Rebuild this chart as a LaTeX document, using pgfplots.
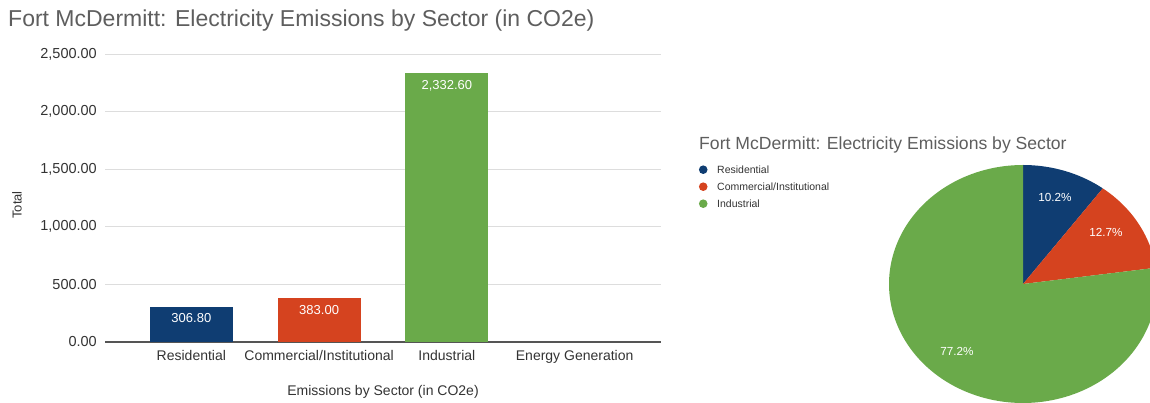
\documentclass[border=0pt]{standalone}
\usepackage{fontspec}
\setmainfont{Liberation Sans}
\usepackage{pgfplots}
\pgfplotsset{compat=1.18}
\definecolor{resblue}{HTML}{0F3D72}
\definecolor{comred}{HTML}{D5431F}
\definecolor{indgreen}{HTML}{6AAA4A}
\definecolor{titlegray}{HTML}{5E5E5E}
\definecolor{ticktext}{HTML}{333333}
\definecolor{gridgray}{HTML}{DDDDDD}
\definecolor{basegray}{HTML}{555555}
\begin{document}
\begin{tikzpicture}
\pgfmathsetmacro{\tot}{306.8+383.0+2332.6}
\pgfmathsetmacro{\aA}{90-360*(306.8/\tot)}
\pgfmathsetmacro{\aB}{\aA-360*(383.0/\tot)}
\path[use as bounding box] (0pt,0pt) rectangle (1150pt,403pt);
\node[anchor=west, text=titlegray, font=\fontsize{23}{26}\selectfont, inner sep=0pt] at (8pt,382pt) {Fort McDermitt: Electricity Emissions by Sector (in CO2e)};
\node[rotate=90, text=ticktext, font=\fontsize{13}{15}\selectfont, inner sep=0pt] at (17pt,198pt) {Total};
\node[text=ticktext, font=\fontsize{14}{16}\selectfont, inner sep=0pt] at (383pt,11pt) {Emissions by Sector (in CO2e)};
\begin{axis}[
  at={(105pt,61pt)}, anchor=south west, scale only axis,
  width=556pt, height=288pt,
  xmin=-0.676, xmax=3.676, ymin=0, ymax=2500,
  ytick={0,500,1000,1500,2000,2500},
  xtick={0,1,2,3},
  xticklabels={Residential,Commercial/Institutional,Industrial,Energy Generation},
  axis line style={draw=none},
  major tick length=0pt,
  ymajorgrids, grid style={draw=gridgray, line width=0.9pt},
  extra y ticks={0}, extra y tick labels={},
  extra y tick style={grid style={draw=basegray, line width=1.3pt}},
  yticklabel style={font=\fontsize{14.5}{17}\selectfont, text=ticktext, inner sep=0pt, xshift=-8pt,
    /pgf/number format/fixed, /pgf/number format/fixed zerofill,
    /pgf/number format/precision=2, /pgf/number format/1000 sep={,},
    /pgf/number format/assume math mode=true},
  xticklabel style={font=\fontsize{14}{16}\selectfont, text=ticktext, inner sep=0pt, yshift=-8pt},
  clip=false,
]
\addplot[ybar, bar width=83pt, fill=resblue, draw=none,
  nodes near coords={\pgfmathprintnumber[fixed,fixed zerofill,precision=2,1000 sep={,},assume math mode=true]{\pgfplotspointmeta}},
  every node near coord/.append style={anchor=north, yshift=-7pt, inner sep=0pt, text=white, font=\fontsize{13}{15}\selectfont}]
  coordinates {(0,306.8)};
\addplot[ybar, bar width=83pt, fill=comred, draw=none,
  nodes near coords={\pgfmathprintnumber[fixed,fixed zerofill,precision=2,1000 sep={,},assume math mode=true]{\pgfplotspointmeta}},
  every node near coord/.append style={anchor=north, yshift=-7pt, inner sep=0pt, text=white, font=\fontsize{13}{15}\selectfont}]
  coordinates {(1,383.0)};
\addplot[ybar, bar width=83pt, fill=indgreen, draw=none,
  nodes near coords={\pgfmathprintnumber[fixed,fixed zerofill,precision=2,1000 sep={,},assume math mode=true]{\pgfplotspointmeta}},
  every node near coord/.append style={anchor=north, yshift=-7pt, inner sep=0pt, text=white, font=\fontsize{13}{15}\selectfont}]
  coordinates {(2,2332.6)};
\end{axis}
\node[anchor=west, text=titlegray, font=\fontsize{17.6}{20}\selectfont, inner sep=0pt] at (699pt,258pt) {Fort McDermitt: Electricity Emissions by Sector};
\begin{axis}[
  at={(889pt,0pt)}, anchor=south west, scale only axis,
  width=268pt, height=238pt,
  xmin=-1, xmax=1, ymin=-1, ymax=1,
  hide axis, clip=false,
  legend style={at={(axis description cs:-0.710,1.0)}, anchor=north west,
    draw=none, fill=none, inner sep=0pt, row sep=7pt,
    font=\fontsize{10.5}{12}\selectfont, text=ticktext,
    nodes={inner sep=0pt, text height=8pt, text depth=2pt},
    /tikz/every odd column/.append style={column sep=9.7pt}},
  legend cell align=left,
]
\addplot[fill=resblue, draw=none, domain=\aA:90, samples=60, variable=\t,
  legend image code/.code={\fill[resblue] (0pt,0.5pt) circle (4.3pt);}]
  ({cos(\t)},{sin(\t)}) -- (0,0) -- cycle;
\addlegendentry{Residential}
\addplot[fill=comred, draw=none, domain=\aB:\aA, samples=60, variable=\t,
  legend image code/.code={\fill[comred] (0pt,0.5pt) circle (4.3pt);}]
  ({cos(\t)},{sin(\t)}) -- (0,0) -- cycle;
\addlegendentry{Commercial/Institutional}
\addplot[fill=indgreen, draw=none, domain=-270:\aB, samples=200, variable=\t,
  legend image code/.code={\fill[indgreen] (0pt,0.5pt) circle (4.3pt);}]
  ({cos(\t)},{sin(\t)}) -- (0,0) -- cycle;
\addlegendentry{Industrial}
\node[text=white, font=\fontsize{11.7}{14}\selectfont, inner sep=0pt] at (0.239,0.731) {10.2\%};
\node[text=white, font=\fontsize{11.7}{14}\selectfont, inner sep=0pt] at (0.619,0.437) {12.7\%};
\node[text=white, font=\fontsize{11.7}{14}\selectfont, inner sep=0pt] at (-0.493,-0.563) {77.2\%};
\end{axis}
\end{tikzpicture}
\end{document}
